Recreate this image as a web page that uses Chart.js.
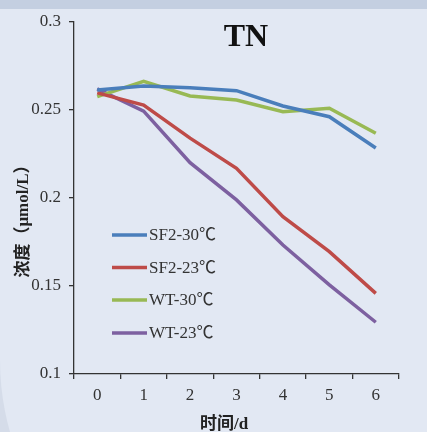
<!DOCTYPE html>
<html>
<head>
<meta charset="utf-8">
<script src="https://cdn.jsdelivr.net/npm/chart.js@4"></script>
<style>
  html, body { margin: 0; padding: 0; }
  body { width: 427px; height: 432px; overflow: hidden; position: relative; background: #d5dce9; }
  #bg { position: absolute; left: 0; top: 0; width: 440px; height: 624px; background: #e2e8f3; border-bottom-left-radius: 264px; }
  #band { position: absolute; left: 0; top: 0; width: 427px; height: 9px; background: #c4cfe1; }
  #wrap { position: absolute; left: 0; top: 0; width: 427px; height: 432px; }
</style>
</head>
<body>
<div id="bg"></div>
<div id="band"></div>
<div id="wrap"><canvas id="c" width="427" height="432"></canvas></div>
<script>
const categories = ['0', '1', '2', '3', '4', '5', '6'];
const seriesNames = ['SF2-30℃', 'SF2-23℃', 'WT-30℃', 'WT-23℃'];
const sf2_30 = [0.2614, 0.2636, 0.2627, 0.2610, 0.2523, 0.2462, 0.2284];
const sf2_23 = [0.2597, 0.2528, 0.2340, 0.2169, 0.1894, 0.1695, 0.1458];
const wt_30  = [0.2576, 0.2663, 0.2580, 0.2557, 0.2490, 0.2510, 0.2368];
const wt_23  = [0.2620, 0.2494, 0.2201, 0.1989, 0.1733, 0.1506, 0.1294];
const yTickLabels = ['0.1', '0.15', '0.2', '0.25', '0.3'];
const titleText = 'TN';
const yTitle = '浓度（μmol/L）';
const xTitle = '时间/d';
const colors = ['#4a7ebb', '#be4b48', '#98b954', '#7d60a0'];

const serif = '"Liberation Serif", "Times New Roman", "Noto Sans CJK SC", serif';

const decor = {
  id: 'decor',
  afterDraw(chart) {
    const ctx = chart.ctx;
    ctx.save();
    // Title
    ctx.fillStyle = '#111';
    ctx.font = 'bold 32px ' + serif;
    ctx.textAlign = 'center';
    ctx.textBaseline = 'middle';
    ctx.fillText(titleText, 246, 38);
    // Y title
    ctx.save();
    ctx.translate(24, 217);
    ctx.rotate(-Math.PI / 2);
    ctx.font = 'bold 17px ' + serif;
    ctx.fillStyle = '#222';
    ctx.fillText(yTitle, 0, 0);
    ctx.restore();
    // X title
    ctx.font = 'bold 17px ' + serif;
    ctx.fillStyle = '#222';
    ctx.fillText(xTitle, 224, 425);
    // Legend
    const ys = [235, 267.5, 300, 333];
    chart.data.datasets.forEach((ds, i) => {
      ctx.strokeStyle = ds.borderColor;
      ctx.lineWidth = 3.5;
      ctx.beginPath();
      ctx.moveTo(112, ys[i]);
      ctx.lineTo(147, ys[i]);
      ctx.stroke();
      ctx.fillStyle = '#333';
      ctx.font = '17px ' + serif;
      ctx.textAlign = 'left';
      ctx.fillText(ds.label, 149, ys[i] + 1);
    });
    ctx.restore();
  }
};

const seriesData = [sf2_30, sf2_23, wt_30, wt_23];

new Chart(document.getElementById('c'), {
  type: 'line',
  data: {
    labels: categories,
    datasets: seriesData.map((d, i) => ({
      label: seriesNames[i],
      data: d,
      borderColor: colors[i],
      backgroundColor: colors[i],
      borderWidth: 3.5,
      pointRadius: 0,
      tension: 0,
      fill: false
    }))
  },
  options: {
    responsive: false,
    animation: false,
    layout: { padding: { top: 22, right: 28, left: 0, bottom: 0 } },
    plugins: { legend: { display: false }, title: { display: false }, tooltip: { enabled: false } },
    scales: {
      x: {
        type: 'category',
        offset: true,
        grid: { display: true, offset: true, drawOnChartArea: false, tickLength: 5, color: '#333', lineWidth: 1.3 },
        border: { display: true, color: '#333', width: 1.3 },
        ticks: { color: '#333', font: { family: serif, size: 17 }, padding: 6, maxRotation: 0 },
        afterFit(s) { s.height = 58; }
      },
      y: {
        min: 0.1,
        max: 0.3,
        grid: { display: true, drawOnChartArea: false, tickLength: 5, color: '#333', lineWidth: 1.3 },
        border: { display: true, color: '#333', width: 1.3 },
        ticks: {
          stepSize: 0.05,
          color: '#333',
          font: { family: serif, size: 17 },
          padding: 8,
          callback: (v, i) => yTickLabels[i]
        },
        afterFit(s) { s.width = 74; }
      }
    }
  },
  plugins: [decor]
});
</script>
</body>
</html>
